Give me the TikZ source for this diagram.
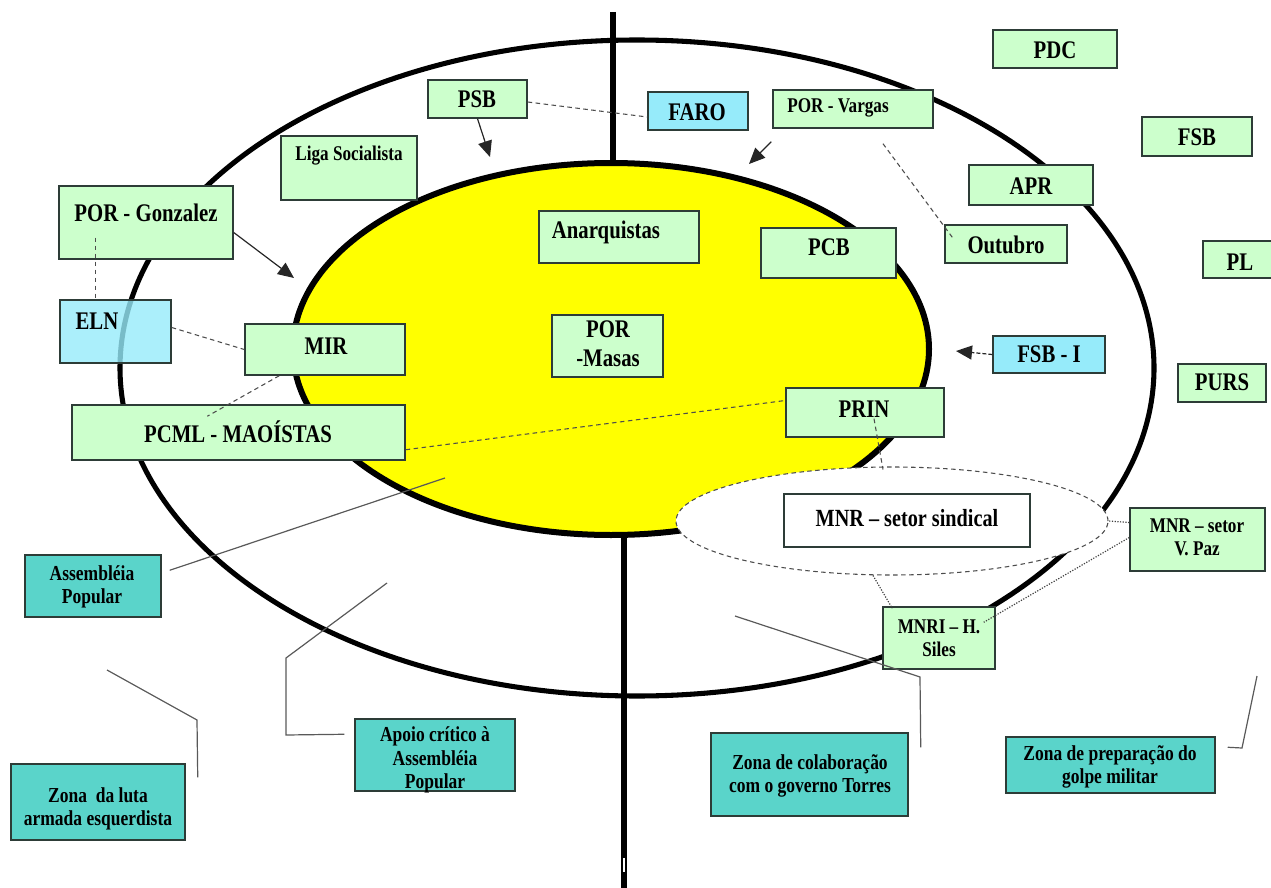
\documentclass[tikz,border=0pt]{standalone}
\usepackage{fontspec}
\newfontfamily\cf[FakeStretch=0.82]{Liberation Serif}
\usetikzlibrary{shapes.geometric,arrows.meta,fit,calc}
\definecolor{lgreen}{RGB}{204,255,204}
\definecolor{lcyan}{RGB}{150,235,250}
\definecolor{tealbox}{RGB}{90,212,202}
\definecolor{yel}{RGB}{255,255,0}
\definecolor{bdr}{RGB}{45,60,55}
\newdimen\pxu
\pxu=0.75pt
\begin{document}
\begin{tikzpicture}[x=0.75pt,y=-0.75pt,
  gbox/.style={draw=bdr, line width=1.1pt, fill=lgreen, inner sep=0pt},
  cbox/.style={draw=bdr, line width=1.1pt, fill=lcyan, inner sep=0pt},
  tbox/.style={draw=bdr, line width=1.1pt, fill=tealbox, inner sep=0pt},
  wbox/.style={draw=bdr, line width=1.1pt, fill=white, inner sep=0pt},
  fL/.style={font=\cf\bfseries\fontsize{19}{22}\selectfont, align=center, inner sep=0pt},
  fM/.style={font=\cf\bfseries\fontsize{15.7}{17}\selectfont, align=center, inner sep=0pt},
  fT/.style={font=\cf\bfseries\fontsize{16}{17.5}\selectfont, align=center, inner sep=0pt},
  dsh/.style={draw=black!70, line width=0.8pt, dash pattern=on 4.5\pxu off 3.5\pxu},
  dtt/.style={draw=black!75, line width=0.9pt, dash pattern=on 1.2\pxu off 1.5\pxu},
  callout/.style={draw=black!65, line width=0.9pt},
  arr/.style={draw=black!85, line width=0.9pt, -{Triangle[length=12pt,width=10.5pt]}}
]
\useasboundingbox (0,0) rectangle (1271,888);
% outer ellipse
\draw[line width=3.8pt] (637,368) ellipse [x radius=517, y radius=328];
% vertical axis
\draw[line width=4.5pt] (613,12) -- (613,250);
\draw[line width=4.5pt] (624,450) -- (624,888);
\draw[white, line width=1.5pt] (624,858) -- (624,872);
% yellow ellipse
\draw[line width=4.5pt, fill=yel] (611,349) ellipse [x radius=318, y radius=186];
% dashed MNR ellipse
\node[ellipse, dsh, fill=white, minimum width=432\pxu, minimum height=108\pxu, inner sep=0pt] (mnrell) at (892,521) {};

% boxes
\node[gbox, fit={(428,80) (527,118)}] (psb) {};
\node[cbox, fit={(648,92) (748,130)}] (faro) {};
\node[gbox, fit={(773,90) (933,128)}] (vargas) {};
\node[gbox, fit={(993,30) (1117,68)}] (pdc) {};
\node[gbox, fit={(1142,117) (1252,156)}] (fsb) {};
\node[gbox, fit={(969,165) (1093,205)}] (apr) {};
\node[gbox, fit={(945,225) (1067,263)}] (outubro) {};
\node[gbox, fit={(1203,241) (1285,278)}] (pl) {};
\node[gbox, fit={(1178,364) (1266,402)}] (purs) {};
\node[cbox, fit={(993,336) (1105,373)}] (fsbi) {};
\node[gbox, fit={(281,136) (417,200)}] (liga) {};
\node[gbox, fit={(59,186) (233,259)}] (gonz) {};
\node[gbox, fit={(539,211) (699,263)}] (anarq) {};
\node[gbox, fit={(761,228) (896,278)}] (pcb) {};
\node[cbox, fill opacity=0.8, fit={(60,300) (171,363)}] (eln) {};
\node[gbox, fit={(245,324) (405,375)}] (mir) {};
\node[gbox, fit={(552,315) (663,377)}] (masas) {};
\node[gbox, fit={(72,405) (405,460)}] (pcml) {};
\node[gbox, fit={(786,388) (944,437)}] (prin) {};
\node[wbox, fit={(784,494) (1030,547)}] (sindical) {};
\node[gbox, fit={(1130,508) (1265,571)}] (vpaz) {};
\node[gbox, fit={(883,607) (995,669)}] (mnri) {};
\node[tbox, fit={(25,555) (161,617)}] (assemb) {};
\node[tbox, fit={(355,719) (515,791)}] (apoio) {};
\node[tbox, fit={(11,764) (185,840)}] (luta) {};
\node[tbox, fit={(711,733) (908,816)}] (colab) {};
\node[tbox, fit={(1006,737) (1215,793)}] (prep) {};

% texts
\node[fL] (psb-t) at (477,99) {PSB};
\node[fL] (faro-t) at (697,112) {FARO};
\node[fM] (vargas-t) at (838,108) {POR - Vargas};
\node[fL] (pdc-t) at (1055,50) {PDC};
\node[fL] (fsb-t) at (1197,137) {FSB};
\node[fL] (apr-t) at (1031,186) {APR};
\node[fL] (outubro-t) at (1006,245) {Outubro};
\node[fL] (pl-t) at (1240,262) {PL};
\node[fL] (purs-t) at (1222,382) {PURS};
\node[fL] (fsbi-t) at (1049,354) {FSB - I};
\node[fM] (liga-t) at (349,156) {Liga Socialista};
\node[fL] (gonz-t) at (146,213) {POR - Gonzalez};
\node[fL] (anarq-t) at (606,232) {Anarquistas};
\node[fL] (pcb-t) at (829,247) {PCB};
\node[fL] (eln-t) at (97,321) {ELN};
\node[fL] (mir-t) at (326,346) {MIR};
\node[fL] (masas-t) at (608,344) {POR\\-Masas};
\node[fL] (pcml-t) at (238,432) {PCML - MAOÍSTAS};
\node[fL] (prin-t) at (864,409) {PRIN};
\node[font=\cf\bfseries\fontsize{18.5}{21}\selectfont, inner sep=0pt] (sindical-t) at (907,518) {MNR – setor sindical};
\node[fM] (vpaz-t) at (1197,537) {MNR – setor\\V. Paz};
\node[fM] (mnri-t) at (939,638) {MNRI – H.\\Siles};
\node[fT] (assemb-t) at (92,587) {Assembléia\\Popular};
\node[fT] (apoio-t) at (435,760) {Apoio crítico à\\Assembléia\\Popular};
\node[fT] (luta-t) at (98,809) {Zona\ \ da luta\\armada esquerdista};
\node[fT] (colab-t) at (810,776) {Zona de colaboração\\com o governo Torres};
\node[fT] (prep-t) at (1110,767) {Zona de preparação do\\golpe militar};

% arrow end points
\coordinate (psbA) at (490,157);
\coordinate (vargasA) at (749,164);
\coordinate (gonzA) at (294,278);
\coordinate (fsbiA) at (956,351);

% arrows
\draw[arr] (psb.south) -- (psbA);
\draw[arr] ([shift={(-1,13)}]vargas.south west) -- (vargasA);
\draw[arr] ([shift={(0,10)}]gonz.east) -- (gonzA);
\draw[arr, dash pattern=on 4\pxu off 2\pxu] (fsbi.west) -- (fsbiA);

% dashed links
\draw[dsh] ([shift={(0,3)}]psb.east) -- ([shift={(0,6)}]faro.west);
\draw[dsh] ([shift={(30,15)}]vargas.south) -- ([shift={(8,13)}]outubro.north west);
\draw[dsh] ([shift={(37,-22)}]gonz.south west) -- ([shift={(36,0)}]eln.north west);
\draw[dsh] ([shift={(0,-4)}]eln.east) -- (mir.west);
\draw[dsh] ([shift={(35,0)}]mir.south west) -- ([shift={(136,12)}]pcml.north west);
\draw[dsh] ([shift={(0,-11)}]pcml.south east) -- ([shift={(0,-12)}]prin.west);
\draw[dsh] ([shift={(9,-19)}]prin.south) -- ([shift={(-9,3)}]mnrell.north);

% dotted links
\draw[dtt] ([shift={(0,-17)}]vpaz.west) -- (mnrell.east);
\draw[dtt] ([shift={(0,-2)}]vpaz.west) -- ([shift={(-12,16)}]mnri.north east);
\draw[dtt] ([shift={(-19,0)}]mnrell.south) -- ([shift={(10,2)}]mnri.north west);

% callout lines
\coordinate (asmE) at (445,478);
\coordinate (apoioE) at (387,583);
\coordinate (lutaE) at (107,670);
\coordinate (colabE) at (735,616);
\coordinate (prepE) at (1257,676);
\draw[callout] ([shift={(8,16)}]assemb.north east) -- (asmE);
\draw[callout] ([shift={(-10,16)}]apoio.north west) -- (286,735) -- (286,658) -- (apoioE);
\draw[callout] ([shift={(12,14)}]luta.north east) -- (197,720) -- (lutaE);
\draw[callout] ([shift={(12,15)}]colab.north east) -- (920,677) -- (colabE);
\draw[callout] ([shift={(12,11)}]prep.north east) -- (1242,748) -- (prepE);
\end{tikzpicture}
\end{document}
